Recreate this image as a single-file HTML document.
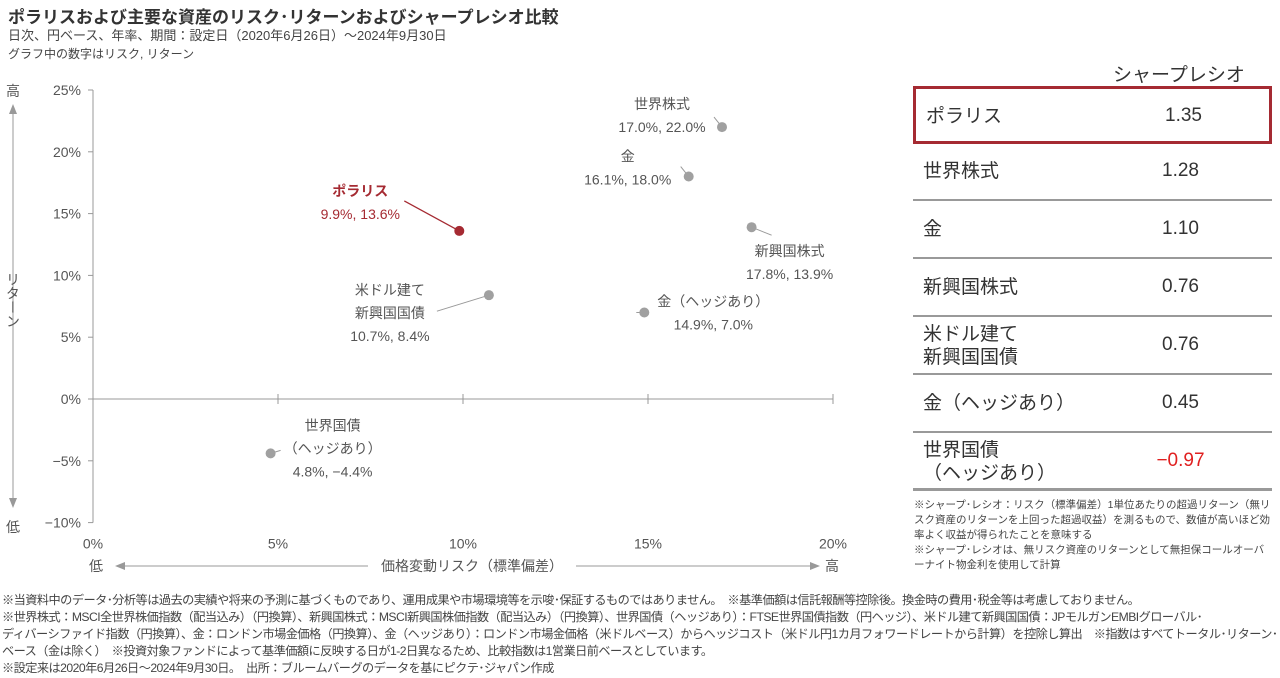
<!DOCTYPE html>
<html><head><meta charset="utf-8">
<style>
body{margin:0;width:1280px;height:678px;background:#fff;font-family:"Liberation Sans","Noto Sans CJK JP",sans-serif;color:#444;overflow:hidden;position:relative}
.abs{position:absolute;white-space:nowrap}
.t1{left:8px;top:3px;font-size:17px;font-weight:bold;color:#333}
.t2{left:8px;top:25px;font-size:13px;color:#444}
.t3{left:8px;top:45px;font-size:12px;color:#444}
.fn{left:2px;font-size:12.2px;color:#444;letter-spacing:-0.55px}
.row{position:absolute;left:913px;width:359px;height:57px;border-bottom:2px solid #999;box-sizing:border-box}
.row .lab{position:absolute;left:10px;font-size:19px;color:#333;line-height:23px}
.row .val{position:absolute;left:240px;width:55px;text-align:center;font-size:19px;color:#333}
</style></head><body>
<div class="abs t1">ポラリスおよび主要な資産のリスク･リターンおよびシャープレシオ比較</div>
<div class="abs t2">日次、円ベース、年率、期間：設定日（2020年6月26日）～2024年9月30日</div>
<div class="abs t3">グラフ中の数字はリスク, リターン</div>

<svg id="chart" width="900" height="590" style="position:absolute;left:0;top:0" font-family="Liberation Sans, Noto Sans CJK JP, sans-serif"></svg>

<div class="abs" style="left:1113px;top:60px;font-size:19px;color:#333">シャープレシオ</div>
<div id="table"></div>
<div class="abs" style="left:914px;top:498px;font-size:10.5px;line-height:15px;color:#444;white-space:normal;width:360px">※シャープ･レシオ：リスク（標準偏差）1単位あたりの超過リターン（無リスク資産のリターンを上回った超過収益）を測るもので、数値が高いほど効率よく収益が得られたことを意味する<br>※シャープ･レシオは、無リスク資産のリターンとして無担保コールオーバーナイト物金利を使用して計算</div>

<div class="abs fn" style="top:590px">※当資料中のデータ･分析等は過去の実績や将来の予測に基づくものであり、運用成果や市場環境等を示唆･保証するものではありません。　※基準価額は信託報酬等控除後。換金時の費用･税金等は考慮しておりません。</div>
<div class="abs fn" style="top:607px">※世界株式：MSCI全世界株価指数（配当込み）（円換算）、新興国株式：MSCI新興国株価指数（配当込み）（円換算）、世界国債（ヘッジあり）：FTSE世界国債指数（円ヘッジ）、米ドル建て新興国国債：JPモルガンEMBIグローバル･</div>
<div class="abs fn" style="top:624px">ディバーシファイド指数（円換算）、金：ロンドン市場金価格（円換算）、金（ヘッジあり）：ロンドン市場金価格（米ドルベース）からヘッジコスト（米ドル円1カ月フォワードレートから計算）を控除し算出　※指数はすべてトータル･リターン･</div>
<div class="abs fn" style="top:641px">ベース（金は除く）　※投資対象ファンドによって基準価額に反映する日が1-2日異なるため、比較指数は1営業日前ベースとしています。</div>
<div class="abs fn" style="top:658px">※設定来は2020年6月26日～2024年9月30日。　出所：ブルームバーグのデータを基にピクテ･ジャパン作成</div>

<script>
const names=[["世界株式"],["金"],["ポラリス"],["新興国株式"],["米ドル建て","新興国国債"],["金（ヘッジあり）"],["世界国債","（ヘッジあり）"]];
const risk=[17.0,16.1,9.9,17.8,10.7,14.9,4.8];
const ret=[22.0,18.0,13.6,13.9,8.4,7.0,-4.4];
const xTicks=[0,5,10,15,20];
const yTicks=[25,20,15,10,5,0,-5,-10];
const tblNames=["ポラリス","世界株式","金","新興国株式","米ドル建て<br>新興国国債","金（ヘッジあり）","世界国債<br>（ヘッジあり）"];
const sharpe=[1.35,1.28,1.10,0.76,0.76,0.45,-0.97];

const NS="http://www.w3.org/2000/svg";
const svg=document.getElementById('chart');
const X=v=>93+v*37, Y=v=>399-v*12.36;
function el(t,a,p){const e=document.createElementNS(NS,t);for(const k in a)e.setAttribute(k,a[k]);(p||svg).appendChild(e);return e;}
function txt(x,y,s,a){const e=el('text',Object.assign({x:x,y:y,'font-size':14,fill:'#555'},a||{}));e.textContent=s;return e;}

let ax=el('line',{x1:X(0),y1:Y(25),x2:X(0),y2:Y(-10),stroke:'#999'});

let zl=el('line',{x1:X(0),y1:Y(0),x2:X(20),y2:Y(0),stroke:'#999'});

yTicks.forEach(v=>{
  el('line',{x1:X(0)-5,y1:Y(v),x2:X(0),y2:Y(v),stroke:'#999'});
  let t=txt(X(0)-12,Y(v)+5,(v<0?'−':'')+Math.abs(v)+'%',{'text-anchor':'end'});
  
});
xTicks.forEach(v=>{
  if(v>0)el('line',{x1:X(v),y1:Y(0)-5,x2:X(v),y2:Y(0)+5,stroke:'#999'});
  let t=txt(X(v),Y(-10)+26,v+'%',{'text-anchor':'middle'});
  
});
txt(13,96,'高',{'text-anchor':'middle'});txt(13,532,'低',{'text-anchor':'middle'});
el('line',{x1:13,y1:112,x2:13,y2:500,stroke:'#999'});
el('path',{d:'M9,114 L13,104 L17,114Z',fill:'#999'});el('path',{d:'M9,498 L13,508 L17,498Z',fill:'#999'});
let yt=el('text',{x:0,y:0,'font-size':14,fill:'#555',transform:'translate(13,300)','writing-mode':'tb','text-anchor':'middle'});yt.textContent='リターン';

txt(96,571,'低',{'text-anchor':'middle'});txt(832,571,'高',{'text-anchor':'middle'});
el('line',{x1:125,y1:566,x2:368,y2:566,stroke:'#999'});el('line',{x1:576,y1:566,x2:810,y2:566,stroke:'#999'});
el('path',{d:'M125,562 L115,566 L125,570Z',fill:'#999'});el('path',{d:'M810,562 L820,566 L810,570Z',fill:'#999'});
let xt=txt(472,571,'価格変動リスク（標準偏差）',{'text-anchor':'middle',});


const lab=[{dx:-60,dy:-18,lx:-8,ly:-10},{dx:-61,dy:-15,lx:-8,ly:-10},{dx:-99,dy:-35,lx:-55,ly:-30},{dx:38,dy:29,lx:20,ly:8},{dx:-99,dy:23,lx:-52,ly:16},{dx:69,dy:-6,lx:-8,ly:0},{dx:62,dy:0,lx:10,ly:-3}];
names.forEach((n,i)=>{
  const cx=X(risk[i]),cy=Y(ret[i]),red=i===2,col=red?'#a52a32':'#999',tc=red?'#a52a32':'#555';
  const o=lab[i];
  el('line',{x1:cx,y1:cy,x2:cx+o.lx,y2:cy+o.ly,stroke:col,'stroke-width':red?1.3:1});
  const c=el('circle',{cx:cx,cy:cy,r:5,fill:red?'#a52a32':'#a0a0a0'});
  
  const lines=n.concat([risk[i].toFixed(1)+'%, '+(ret[i]<0?'−':'')+Math.abs(ret[i]).toFixed(1)+'%']);
  const sy=cy+o.dy-(lines.length-2)*23;
  lines.forEach((s,j)=>{
    let t=txt(cx+o.dx,sy+j*23,s,{'text-anchor':'middle',fill:tc,'font-weight':(red&&j===0)?'bold':'normal'});
    
  });
});

const tb=document.getElementById('table');
tblNames.forEach((n,i)=>{
  const r=document.createElement('div');r.className='row';
  
  
  const top=86+i*58;r.style.top=top+'px';
  if(i===0){r.style.border='3px solid #a52a32';r.style.height='58px';}
  if(i===6){r.style.borderBottomWidth='3px';}
  const two=n.includes('<br>');
  r.innerHTML='<div class="lab" style="top:'+(two?5:16)+'px">'+n+'</div><div class="val" style="top:16px;'+(sharpe[i]<0?'color:#e02020':'')+'">'+(sharpe[i]<0?'−':'')+Math.abs(sharpe[i]).toFixed(2)+'</div>';
  tb.appendChild(r);
});
</script>
</body></html>
